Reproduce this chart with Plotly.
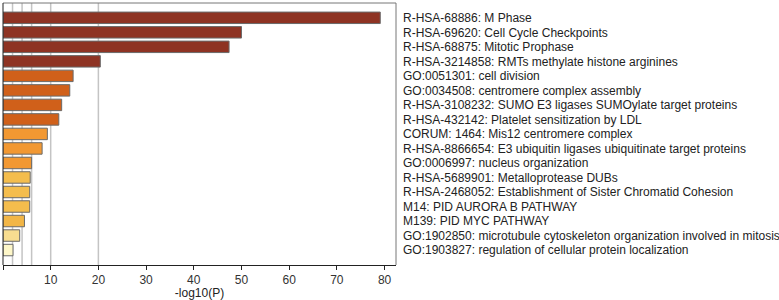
import plotly.graph_objects as go

terms = [
    "R-HSA-68886: M Phase",
    "R-HSA-69620: Cell Cycle Checkpoints",
    "R-HSA-68875: Mitotic Prophase",
    "R-HSA-3214858: RMTs methylate histone arginines",
    "GO:0051301: cell division",
    "GO:0034508: centromere complex assembly",
    "R-HSA-3108232: SUMO E3 ligases SUMOylate target proteins",
    "R-HSA-432142: Platelet sensitization by LDL",
    "CORUM: 1464: Mis12 centromere complex",
    "R-HSA-8866654: E3 ubiquitin ligases ubiquitinate target proteins",
    "GO:0006997: nucleus organization",
    "R-HSA-5689901: Metalloprotease DUBs",
    "R-HSA-2468052: Establishment of Sister Chromatid Cohesion",
    "M14: PID AURORA B PATHWAY",
    "M139: PID MYC PATHWAY",
    "GO:1902850: microtubule cytoskeleton organization involved in mitosis",
    "GO:1903827: regulation of cellular protein localization",
]
neg_log10_p = [79.1, 50.0, 47.4, 20.4, 14.7, 14.0, 12.3, 11.7, 9.3, 8.2,
               6.0, 5.7, 5.6, 5.6, 4.5, 3.5, 2.1]
bar_colors = ["#8E3323", "#8E3323", "#8E3323", "#8E3323",
              "#D0601A", "#D0601A", "#D0601A", "#D0601A",
              "#F29832", "#F29832", "#F29832",
              "#F4BD4D", "#F4BD4D", "#F4BD4D", "#F2B647",
              "#F8DD90", "#FEF7C9"]
threshold_lines = [2, 4, 6, 10, 20]
x_ticks = [0, 10, 20, 30, 40, 50, 60, 70, 80]

FONT = "Liberation Sans, Arial, sans-serif"

fig = go.Figure()
fig.add_trace(go.Bar(
    x=neg_log10_p, y=terms, orientation="h",
    marker=dict(color=bar_colors, line=dict(color="#6a6a6a", width=1)),
    width=0.79,
))

shapes = []
for v in threshold_lines:
    shapes.append(dict(type="line", xref="x", yref="paper", x0=v, x1=v, y0=0, y1=1,
                       line=dict(color="#c4c4c4", width=1.5), layer="below"))
# frame
shapes.append(dict(type="line", xref="paper", yref="paper", x0=0, x1=1, y0=1, y1=1,
                   line=dict(color="#777777", width=1)))
shapes.append(dict(type="line", xref="paper", yref="paper", x0=1, x1=1, y0=0, y1=1,
                   line=dict(color="#777777", width=1)))
shapes.append(dict(type="line", xref="paper", yref="paper", x0=0, x1=0, y0=0, y1=1,
                   line=dict(color="#222222", width=1)))

n = len(terms)
fig.update_layout(
    width=779, height=300,
    margin=dict(l=3, r=383, t=3, b=35),
    paper_bgcolor="white", plot_bgcolor="white",
    showlegend=False,
    shapes=shapes,
    font=dict(family=FONT, size=12, color="#222222"),
    xaxis=dict(range=[0, 82.4], tickvals=x_ticks, ticks="outside", ticklen=4,
               tickcolor="#222222", showline=True, linecolor="#222222", linewidth=1,
               showgrid=False, zeroline=False, automargin=False,
               tickfont=dict(size=12, color="#333333"),
               title=dict(text="-log10(P)", font=dict(size=12, color="#222222"), standoff=0)),
    yaxis=dict(type="category", categoryorder="array", categoryarray=terms,
               range=[n - 1 + 1.03, -1.02], side="right", showgrid=False,
               showline=False, ticks="", zeroline=False, ticklabelstandoff=6,
               automargin=False,
               tickfont=dict(size=12, color="#222222")),
)

fig.write_html("out.html", config={"displayModeBar": False},
               post_script="document.body.style.margin='0';document.body.style.overflow='hidden';")
